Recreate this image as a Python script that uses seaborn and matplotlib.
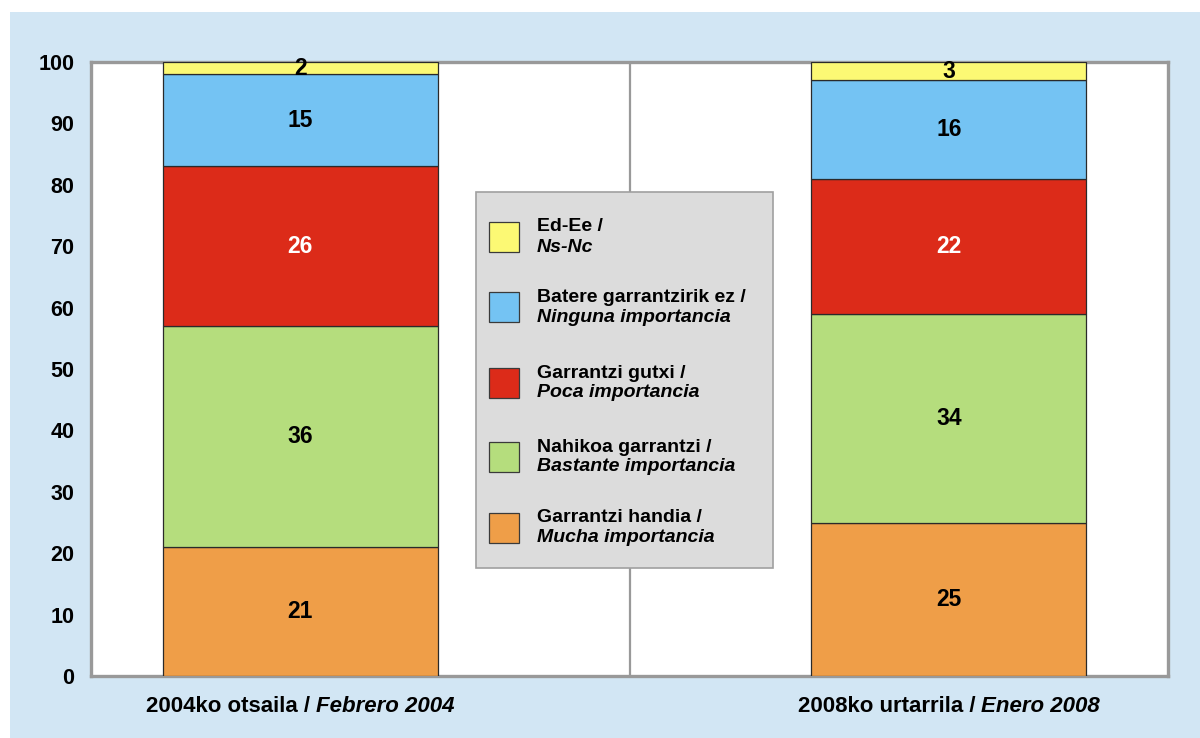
import matplotlib
matplotlib.use("Agg")
import matplotlib.pyplot as plt
from matplotlib.patches import Rectangle
import numpy as np
import pandas as pd
import seaborn as sns

# Survey periods (Basque / Spanish)
periods = ["2004ko otsaila", "2008ko urtarrila"]
periods_es = ["Febrero 2004", "Enero 2008"]

# Answer categories, bottom of the stack first
cat_eu = ["Garrantzi handia", "Nahikoa garrantzi", "Garrantzi gutxi",
          "Batere garrantzirik ez", "Ed-Ee"]
cat_es = ["Mucha importancia", "Bastante importancia", "Poca importancia",
          "Ninguna importancia", "Ns-Nc"]

# Percentages per period
mucha = [21, 25]
bastante = [36, 34]
poca = [26, 22]
ninguna = [15, 16]
nsnc = [2, 3]
series = [mucha, bastante, poca, ninguna, nsnc]

colors = ["#EF9E48", "#B5DD7D", "#DC2B19", "#74C3F3", "#FCF974"]
label_colors = ["black", "black", "white", "black", "black"]
yticks = list(range(0, 101, 10))

W, H = 1200, 738
sns.set_style("white")
plt.rcParams["font.family"] = ["Liberation Sans", "DejaVu Sans"]
plt.rcParams["text.color"] = "black"
plt.rcParams["xtick.color"] = "black"
plt.rcParams["ytick.color"] = "black"

fig = plt.figure(figsize=(W / 100, H / 100), dpi=100, facecolor="white")


def fx(x):
    return x / W


def fy(y):
    return 1 - y / H


# light blue panel
fig.add_artist(Rectangle((fx(10), 0), 1 - fx(10), fy(12), transform=fig.transFigure,
                         facecolor="#D2E6F4", edgecolor="none", zorder=-2))

ax = fig.add_axes([fx(91), fy(676), fx(1168) - fx(91), fy(62) - fy(676)])
ax.set_facecolor("white")

bottom = np.zeros(len(periods))
for vals, col, lc in zip(series, colors, label_colors):
    df = pd.DataFrame({"period": periods, "value": vals})
    sns.barplot(data=df, x="period", y="value", order=periods, color=col,
                saturation=1, width=0.424, bottom=bottom, edgecolor="#2a2a2a",
                linewidth=0.9, ax=ax, zorder=3)
    ax.bar_label(ax.containers[-1], labels=[str(v) for v in vals],
                 label_type="center", color=lc, fontweight="bold", fontsize=16.5)
    bottom = bottom + np.array(vals)

ax.set_xlim(-0.3228, 1.338)
ax.set_ylim(0, 100)
ax.set_yticks(yticks)
ax.set_yticklabels([str(t) for t in yticks], fontweight="bold", fontsize=15.5,
                   color="black")
ax.tick_params(axis="y", length=0, pad=12)
ax.set_xticks([])
ax.set_xlabel("")
ax.set_ylabel("")
ax.grid(False)

# separator between the two periods
ax.axvline(0.509, color="#999999", linewidth=1.6, zorder=1)

for s in ax.spines.values():
    s.set_visible(True)
    s.set_color("#999999")
    s.set_linewidth(2.4)

# period labels: Basque part upright, Spanish part italic
fig.canvas.draw()
renderer = fig.canvas.get_renderer()
for i, (eu, es) in enumerate(zip(periods, periods_es)):
    t1 = ax.text(i, 0, eu + " / ", transform=ax.get_xaxis_transform(),
                 ha="left", va="center", fontweight="bold", fontsize=16,
                 color="black")
    t2 = ax.text(i, 0, es, transform=ax.get_xaxis_transform(),
                 ha="left", va="center", fontweight="bold", fontstyle="italic",
                 fontsize=16, color="black")
    w1 = t1.get_window_extent(renderer).width
    w2 = t2.get_window_extent(renderer).width
    cx = ax.transData.transform((i, 0))[0]
    ypix = fy(707) * H
    x0 = cx - (w1 + w2) / 2
    inv = ax.transAxes.inverted()
    p1 = inv.transform((x0, ypix))
    p2 = inv.transform((x0 + w1, ypix))
    for t, p in ((t1, p1), (t2, p2)):
        t.set_transform(ax.transAxes)
        t.set_position(p)
        t.set_clip_on(False)

# legend box
fig.add_artist(Rectangle((fx(476), fy(568)), fx(773) - fx(476), fy(192) - fy(568),
                         transform=fig.transFigure, facecolor="#DCDCDC",
                         edgecolor="#A0A0A0", linewidth=1.2, zorder=5))
centers = [528, 457, 383, 307, 237]
for eu, es, col, cy in zip(cat_eu, cat_es, colors, centers):
    fig.add_artist(Rectangle((fx(489), fy(cy + 15)), fx(30), 30 / H,
                             transform=fig.transFigure, facecolor=col,
                             edgecolor="#3a3a3a", linewidth=0.9, zorder=6))
    fig.text(fx(537), fy(cy - 10), eu + " /", ha="left", va="center",
             fontweight="bold", fontsize=14, zorder=7, color="black")
    fig.text(fx(537), fy(cy + 10), es, ha="left", va="center",
             fontweight="bold", fontstyle="italic", fontsize=14, zorder=7,
             color="black")

fig.savefig("out.png", dpi=100)
